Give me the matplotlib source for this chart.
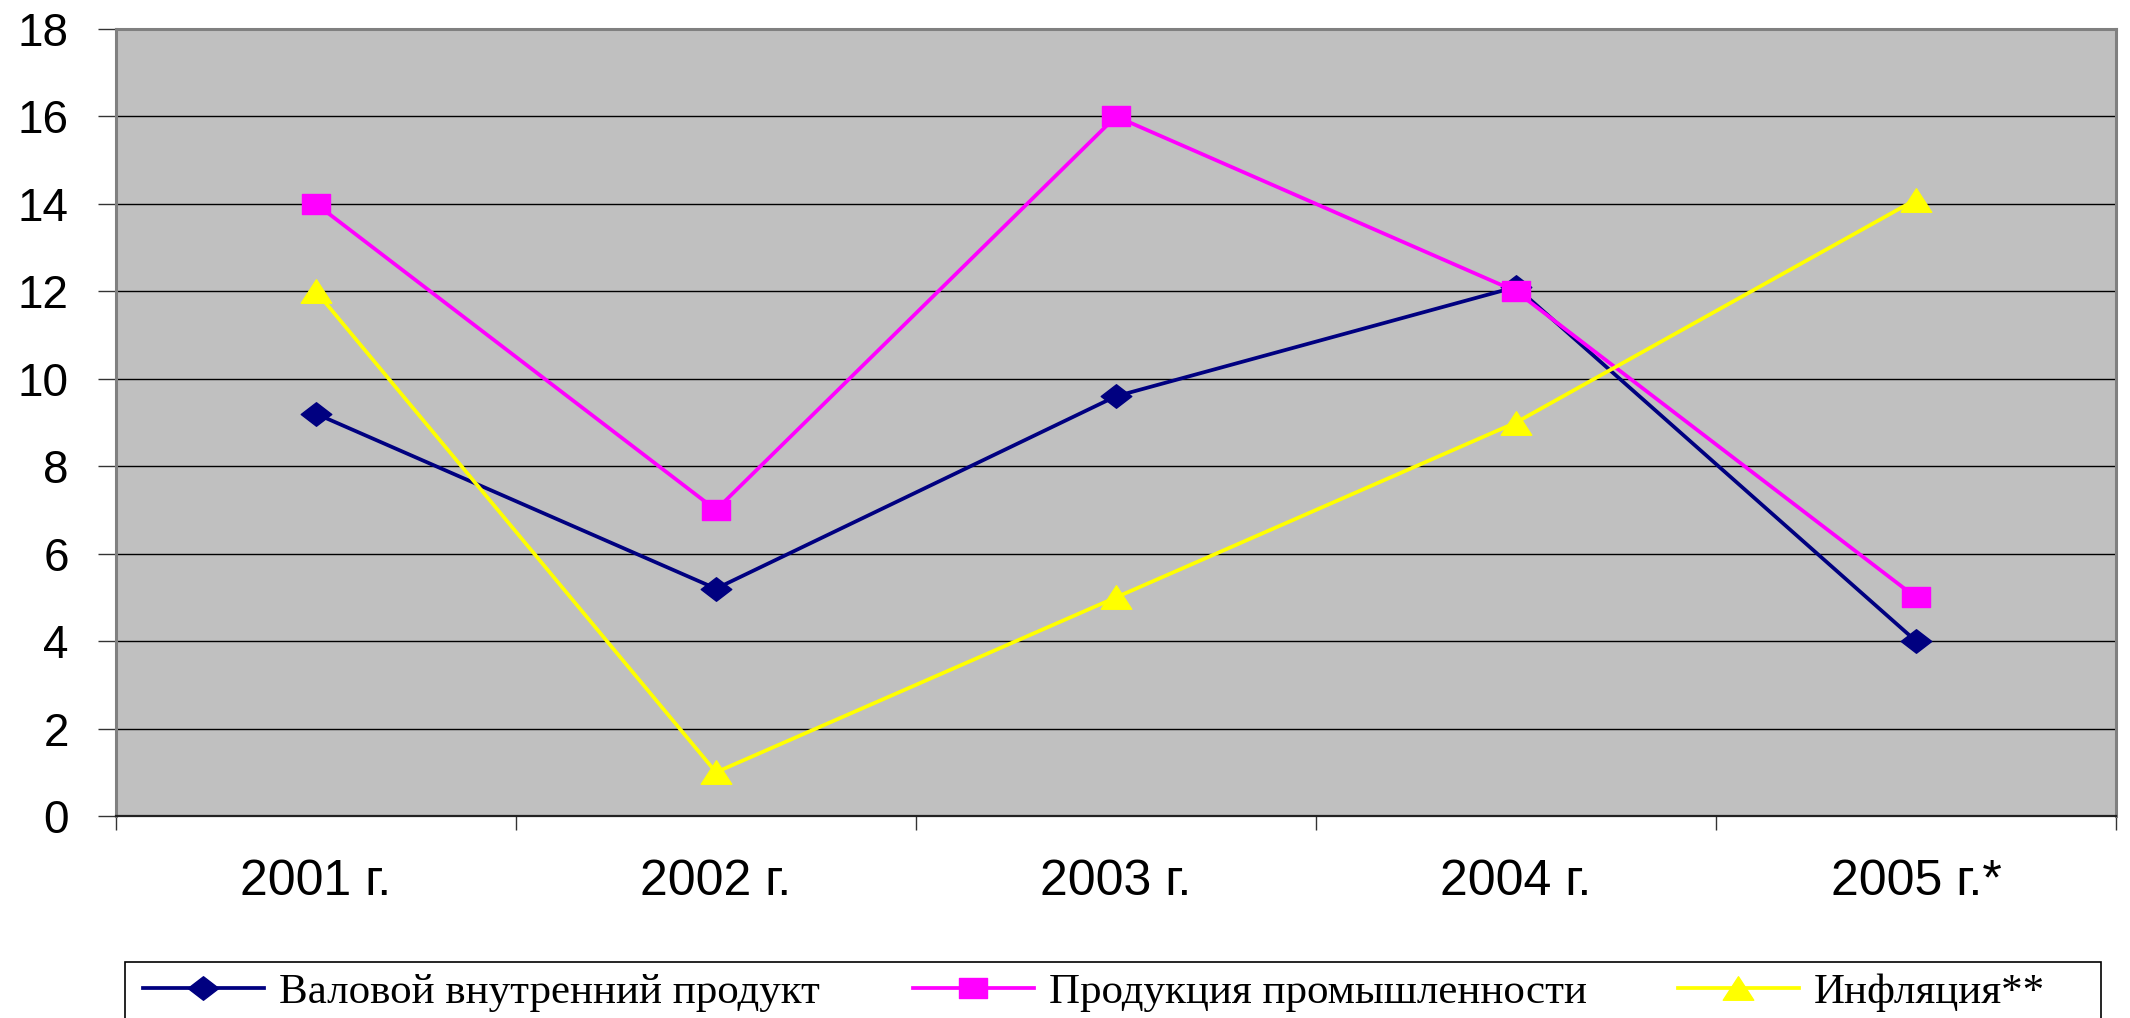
import matplotlib
matplotlib.use("Agg")
import matplotlib.pyplot as plt
import numpy as np
from matplotlib.path import Path
from matplotlib.lines import Line2D
from matplotlib.patches import Rectangle

categories = ["2001 г.", "2002 г.", "2003 г.", "2004 г.", "2005 г.*"]
gdp = [9.2, 5.2, 9.6, 12.1, 4.0]
industry = [14.0, 7.0, 16.0, 12.0, 5.0]
inflation = [12.0, 1.0, 5.0, 9.0, 14.1]
series_names = ["Валовой внутренний продукт", "Продукция промышленности", "Инфляция**"]
y_ticks = [0, 2, 4, 6, 8, 10, 12, 14, 16, 18]

W, H = 2130, 1018
DPI = 100
fig = plt.figure(figsize=(W / DPI, H / DPI), dpi=DPI)
fig.patch.set_facecolor("white")

L, R, T, B = 116, 2116, 29, 816
ax = fig.add_axes([L / W, 1 - B / H, (R - L) / W, (B - T) / H])
ax.set_facecolor("#C0C0C0")

# stretched markers (image is wider than tall)
sx = 1.3
sq = Path([(-sx, -1), (sx, -1), (sx, 1), (-sx, 1), (-sx, -1)], closed=True)
dia = Path([(0, -1), (sx, 0), (0, 1), (-sx, 0), (0, -1)], closed=True)
tri = Path([(-sx, -1), (sx, -1), (0, 1), (-sx, -1)], closed=True)

colors = ["#000080", "#FF00FF", "#FFFF00"]
markers = [dia, sq, tri]
msizes = [22, 19.5, 22]

x = np.arange(len(categories))
lw = 2.7
for i, vals in enumerate([gdp, industry, inflation]):
    ax.plot(x, vals, color=colors[i], lw=lw, marker=markers[i], ms=msizes[i],
            mfc=colors[i], mec=colors[i], zorder=3 + i)

ax.set_xlim(-0.5, len(categories) - 0.5)
ax.set_ylim(0, 18)
ax.set_yticks(y_ticks)
ax.set_yticklabels([str(v) for v in y_ticks], fontsize=33, family="Liberation Sans")
ax.yaxis.grid(True, color="black", lw=1.0)
ax.set_axisbelow(True)

ax.set_xticks(x)
ax.set_xticklabels(categories, fontsize=36, family="Liberation Sans")
ax.tick_params(axis="x", which="major", length=0, pad=31)
ax.set_xticks(np.arange(-0.5, len(categories)), minor=True)
ax.tick_params(axis="x", which="minor", length=10, width=1, color="#333333", direction="out")
ax.tick_params(axis="y", length=13, width=1, color="#333333", direction="out", pad=21)

for s in ["left", "top", "right"]:
    ax.spines[s].set_color("#808080")
    ax.spines[s].set_linewidth(2.2)
ax.spines["bottom"].set_color("#222222")
ax.spines["bottom"].set_linewidth(1.6)

# legend frame
lx0, lx1, ly0, ly1 = 125, 2101, 962, 1030
fig.add_artist(Rectangle((lx0 / W, 1 - ly1 / H), (lx1 - lx0) / W, (ly1 - ly0) / H,
                         transform=fig.transFigure, facecolor="white",
                         edgecolor="black", lw=1.2, zorder=1))

# legend entries placed individually
handle_starts = [143, 913, 1678]
y_center = 992
for i, name in enumerate(series_names):
    h = Line2D([], [], color=colors[i], lw=lw, marker=markers[i], ms=msizes[i],
               mfc=colors[i], mec=colors[i])
    leg = fig.legend([h], [name], loc="center left",
                     bbox_to_anchor=(handle_starts[i] / W, 1 - y_center / H),
                     borderaxespad=0, borderpad=0, frameon=False,
                     handlelength=2.8, handletextpad=0.35,
                     prop={"family": "Liberation Serif", "size": 31})
    leg.set_zorder(2)

fig.savefig("out.png", dpi=DPI)
